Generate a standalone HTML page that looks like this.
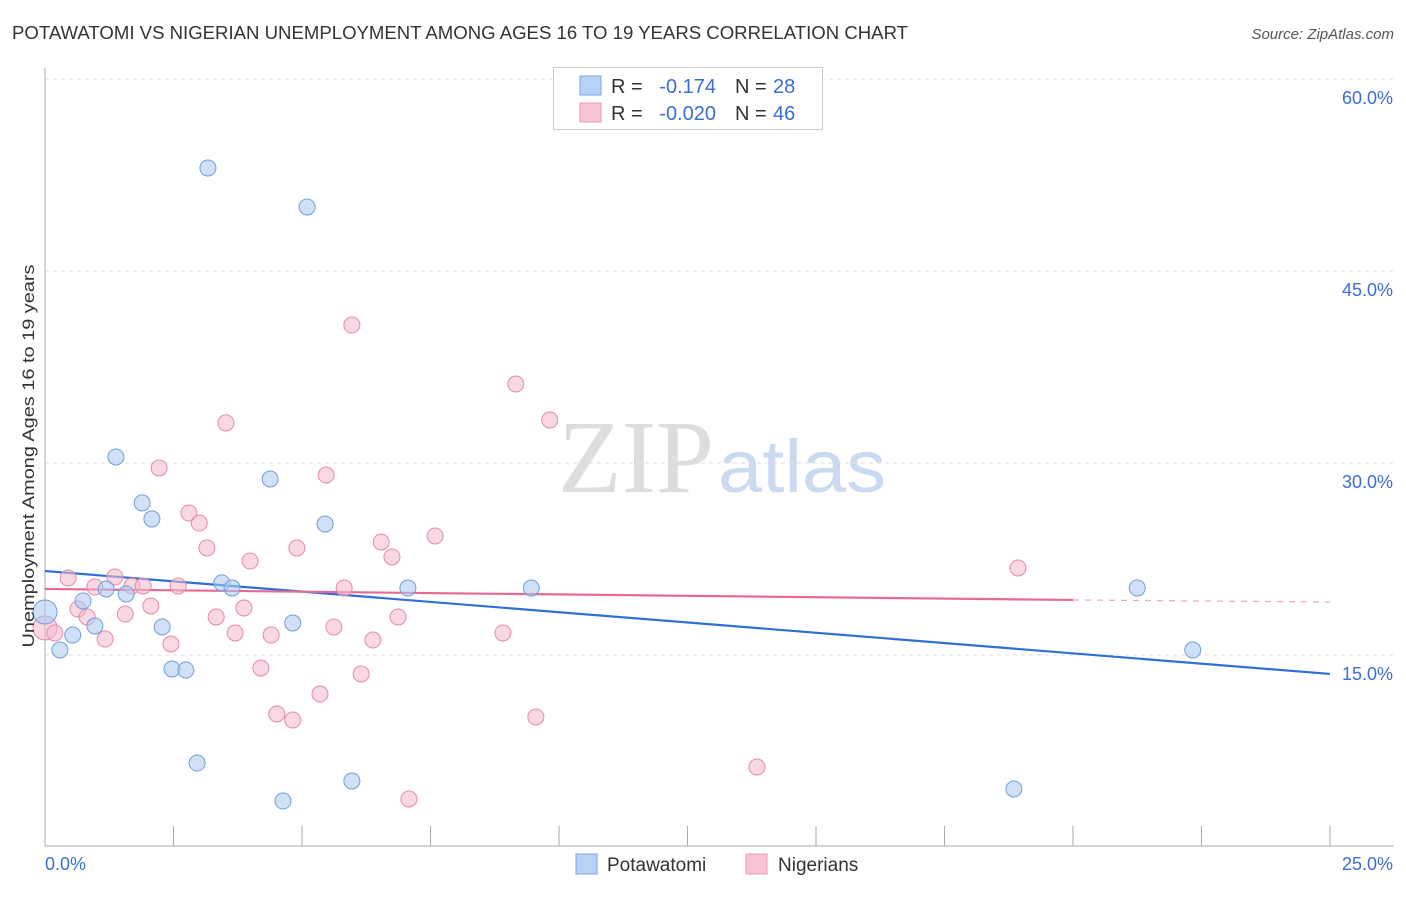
<!DOCTYPE html>
<html><head><meta charset="utf-8">
<style>
body{margin:0;background:#fff;font-family:"Liberation Sans",sans-serif;}
</style></head>
<body>
<svg id="chart" width="1406" height="892" xmlns="http://www.w3.org/2000/svg" font-family="Liberation Sans, sans-serif">
<text x="12" y="39" font-size="18" fill="#333" textLength="896" lengthAdjust="spacingAndGlyphs">POTAWATOMI VS NIGERIAN UNEMPLOYMENT AMONG AGES 16 TO 19 YEARS CORRELATION CHART</text>
<text x="1394" y="39" font-size="15" fill="#555" text-anchor="end" font-style="italic">Source: ZipAtlas.com</text>
<text x="714" y="492" font-size="104" text-anchor="end" fill="#ddd" font-family="Liberation Serif, serif">ZIP</text>
<text x="718" y="492" font-size="74" fill="#c9daf2" textLength="168" lengthAdjust="spacingAndGlyphs">atlas</text>
<g id="grid"></g>
<g id="axes"></g>
<g id="lines"></g>
<g id="pts"></g>
<text transform="translate(34,456) rotate(-90)" font-size="17" fill="#333" text-anchor="middle" textLength="383" lengthAdjust="spacingAndGlyphs">Unemployment Among Ages 16 to 19 years</text>
<g>
<rect x="553.5" y="67.5" width="269" height="62" fill="#fff" stroke="#ccc"/>
<rect x="580" y="76" width="21" height="19" fill="#b8d2f5" stroke="#7aa6e0"/>
<rect x="580" y="103" width="21" height="19" fill="#f9c4d4" stroke="#ec9ab4"/>
<text x="611" y="93" font-size="20" fill="#333">R = </text><text x="716" y="93" font-size="20" fill="#3a6fd0" text-anchor="end">-0.174</text>
<text x="735" y="93" font-size="20" fill="#333">N = </text><text x="773" y="93" font-size="20" fill="#3a6fd0">28</text>
<text x="611" y="120" font-size="20" fill="#333">R = </text><text x="716" y="120" font-size="20" fill="#3a6fd0" text-anchor="end">-0.020</text>
<text x="735" y="120" font-size="20" fill="#333">N = </text><text x="773" y="120" font-size="20" fill="#3a6fd0">46</text>
</g>
<g>
<rect x="576" y="854" width="21" height="20" fill="#b8d2f5" stroke="#7aa6e0"/>
<text x="607" y="871" font-size="19" fill="#333">Potawatomi</text>
<rect x="746" y="854" width="21" height="20" fill="#f9c4d4" stroke="#ec9ab4"/>
<text x="778" y="871" font-size="19" fill="#333">Nigerians</text>
</g>
</svg>
<script>
const blueX=[0,0.29,0.54,0.74,0.97,1.19,1.38,1.58,1.89,2.08,2.28,2.47,2.74,2.96,3.17,3.44,3.64,4.38,4.63,4.82,5.10,5.45,5.97,7.06,9.46,18.85,21.25,22.33];
const blueY=[18.36,15.39,16.56,19.22,17.27,20.16,30.47,19.77,26.88,25.63,17.19,13.91,13.83,6.56,53.05,20.63,20.23,28.75,3.59,17.5,50.0,25.23,5.16,20.23,20.23,4.53,20.23,15.39];
const pinkX=[0,0.19,0.45,0.64,0.82,0.97,1.17,1.36,1.56,1.69,1.91,2.06,2.22,2.45,2.59,2.80,3.00,3.15,3.33,3.52,3.70,3.87,3.99,4.20,4.40,4.51,4.82,4.90,5.35,5.47,5.62,5.82,5.97,6.15,6.38,6.54,6.75,6.87,7.08,7.59,8.91,9.16,9.55,9.82,13.85,18.93];
const pinkY=[17.11,16.72,21.02,18.59,17.97,20.31,16.25,21.09,18.2,20.39,20.39,18.83,29.61,15.86,20.39,26.09,25.31,23.36,17.97,33.13,16.72,18.67,22.34,13.98,16.56,10.39,9.92,23.36,11.95,29.06,17.19,20.23,40.78,13.52,16.17,23.83,22.66,17.97,3.75,24.3,16.72,36.17,10.16,33.36,6.25,21.8];
const blueTrend=[21.56,13.52];
const pinkTrend=[20.16,19.3,19.14];
const yTicks=[15,30,45,60];
const yTickLabels=["15.0%","30.0%","45.0%","60.0%"];
const xTicks=[0,2.5,5,7.5,10,12.5,15,17.5,20,22.5,25];
const NS="http://www.w3.org/2000/svg";
const X=v=>45+v*51.4, Y=v=>847-v*12.8;
function mk(p,t,a){const e=document.createElementNS(NS,t);for(const k in a)e.setAttribute(k,a[k]);document.getElementById(p).appendChild(e);return e;}
yTicks.forEach((t,i)=>{
 const g=mk('grid','line',{x1:45,x2:1394,y1:Y(t),y2:Y(t),stroke:'#ddd','stroke-dasharray':'4,4'});
 
 
 const l=mk('axes','text',{x:1393,y:Y(t)+25,'font-size':18,fill:'#3a6fd0','text-anchor':'end'});
 l.textContent=yTickLabels[i];
 
 
});
const ax=mk('axes','line',{x1:45,x2:1394,y1:846,y2:846,stroke:'#aaa'});


const ay=mk('axes','line',{x1:45,x2:45,y1:68,y2:846,stroke:'#aaa'});


xTicks.forEach(t=>{
 const tk=mk('axes','line',{x1:X(t),x2:X(t),y1:826,y2:846,stroke:'#aaa'});
 
 
});
const x0=mk('axes','text',{x:45,y:870,'font-size':18,fill:'#3a6fd0'});x0.textContent='0.0%';


const x1=mk('axes','text',{x:1393,y:870,'font-size':18,fill:'#3a6fd0','text-anchor':'end'});x1.textContent='25.0%';


function pts(xs,ys,fill,stroke,name){xs.forEach((x,i)=>{
 const c=mk('pts','circle',{cx:X(x),cy:Y(ys[i]),r:i==0?12:8,fill:fill,'fill-opacity':0.55,stroke:stroke,'stroke-width':1});
 
 
});}
pts(pinkX,pinkY,'#f6b8cc','#e68aa8','nigerian-point');
pts(blueX,blueY,'#a9c8f0','#6f9fdc','potawatomi-point');
const bl=mk('lines','line',{x1:X(0),y1:Y(blueTrend[0]),x2:X(25),y2:Y(blueTrend[1]),stroke:'#2f6fd6','stroke-width':2.2});


const pl=mk('lines','line',{x1:X(0),y1:Y(pinkTrend[0]),x2:X(20),y2:Y(pinkTrend[1]),stroke:'#e86a94','stroke-width':2.2});


const pd=mk('lines','line',{x1:X(20),y1:Y(pinkTrend[1]),x2:X(25),y2:Y(pinkTrend[2]),stroke:'#e86a94','stroke-width':1.2,'stroke-dasharray':'6,6','stroke-opacity':0.6});


</script>
</body></html>
